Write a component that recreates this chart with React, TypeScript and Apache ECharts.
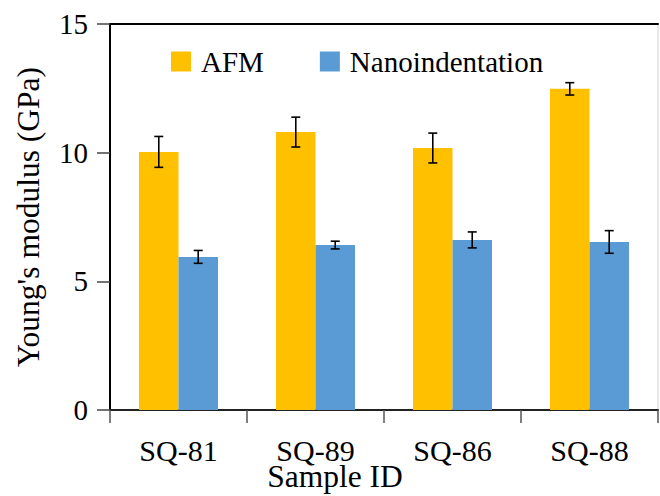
import React, { useEffect, useRef } from "react";
import * as echarts from "echarts";

const categories = ["SQ-81", "SQ-89", "SQ-86", "SQ-88"];
const afmValues = [10.03, 10.8, 10.18, 12.48];
const afmErrors = [0.6, 0.58, 0.58, 0.24];
const nanoValues = [5.95, 6.41, 6.61, 6.53];
const nanoErrors = [0.25, 0.15, 0.31, 0.44];
const yTicks = { min: 0, max: 15, interval: 5 };

const FONT = "Liberation Serif";

function errorSeries(name: string, values: number[], errors: number[], offsetFrac: number) {
  return {
    name: name + " error",
    type: "custom",
    xAxisIndex: 0,
    yAxisIndex: 0,
    z: 10,
    silent: true,
    data: values.map((v, i) => [i, v - errors[i], v + errors[i]]),
    renderItem: (params: any, api: any) => {
      const idx = api.value(0);
      const low = api.coord([idx, api.value(1)]);
      const high = api.coord([idx, api.value(2)]);
      const catW = api.size([1, 0])[0];
      const x = low[0] + catW * offsetFrac;
      const cap = 4.5;
      const style = { stroke: "#000", lineWidth: 1.6 };
      return {
        type: "group",
        children: [
          { type: "line", shape: { x1: x, y1: low[1], x2: x, y2: high[1] }, style },
          { type: "line", shape: { x1: x - cap, y1: low[1], x2: x + cap, y2: low[1] }, style },
          { type: "line", shape: { x1: x - cap, y1: high[1], x2: x + cap, y2: high[1] }, style },
        ],
      };
    },
  };
}

export default function App() {
  const ref = useRef<HTMLDivElement>(null);
  useEffect(() => {
    if (!ref.current) return;
    const chart = echarts.init(ref.current, undefined, { renderer: "svg" });
    const barFrac = 39.5 / 137.25;
    chart.setOption({
      animation: false,
      backgroundColor: "#fff",
      textStyle: { fontFamily: FONT },
      grid: {
        left: 110,
        right: 2,
        top: 24,
        bottom: 86,
        show: true,
        borderColor: "#d0d0d0",
        borderWidth: 1,
        containLabel: false,
        outerBoundsMode: "none",
      },
      legend: {
        left: 171,
        top: 47,
        padding: 0,
        itemWidth: 20,
        itemHeight: 20,
        itemGap: 56,
        icon: "rect",
        data: ["AFM", "Nanoindentation"],
        textStyle: { fontFamily: FONT, fontSize: 29, color: "#000", padding: [0, 0, 0, 5] },
      },
      xAxis: [
        {
          type: "category",
          data: categories,
          position: "bottom",
          name: "Sample ID",
          nameLocation: "middle",
          nameGap: 54,
          nameMoveOverlap: false,
          nameTextStyle: {
            fontFamily: FONT,
            fontSize: 31.5,
            lineHeight: 24,
            color: "#000",
            padding: [0, 98, 0, 0],
          },
          axisLine: { lineStyle: { color: "#222", width: 2 } },
          axisTick: { show: true, length: 13, lineStyle: { color: "#555", width: 1.5 } },
          axisLabel: { margin: 28, lineHeight: 24, fontFamily: FONT, fontSize: 30, color: "#000" },
        },
        {
          type: "category",
          data: categories,
          position: "top",
          axisLine: { show: true, lineStyle: { color: "#000", width: 2 } },
          axisTick: { show: false },
          axisLabel: { show: false },
        },
      ],
      yAxis: {
        type: "value",
        min: yTicks.min,
        max: yTicks.max,
        interval: yTicks.interval,
        name: "Young's modulus (GPa)",
        nameLocation: "middle",
        nameGap: 66,
        nameMoveOverlap: false,
        nameTextStyle: { fontFamily: FONT, fontSize: 31.5, color: "#000" },
        axisLine: { show: true, lineStyle: { color: "#000", width: 2 } },
        axisTick: { show: true, length: 13, lineStyle: { color: "#444", width: 1.5 } },
        axisLabel: { margin: 22, fontFamily: FONT, fontSize: 29, color: "#000" },
        splitLine: { show: false },
      },
      series: [
        {
          name: "AFM",
          type: "bar",
          data: afmValues,
          barWidth: 39.5,
          barGap: "0%",
          itemStyle: { color: "#FFC000" },
        },
        {
          name: "Nanoindentation",
          type: "bar",
          data: nanoValues,
          barWidth: 39.5,
          barGap: "0%",
          itemStyle: { color: "#5B9BD5" },
        },
        errorSeries("AFM", afmValues, afmErrors, -barFrac / 2),
        errorSeries("Nanoindentation", nanoValues, nanoErrors, barFrac / 2),
      ],
    });
    return () => chart.dispose();
  }, []);
  return <div ref={ref} style={{ width: 660, height: 496, position: "absolute", left: 0, top: 0 }} />;
}
